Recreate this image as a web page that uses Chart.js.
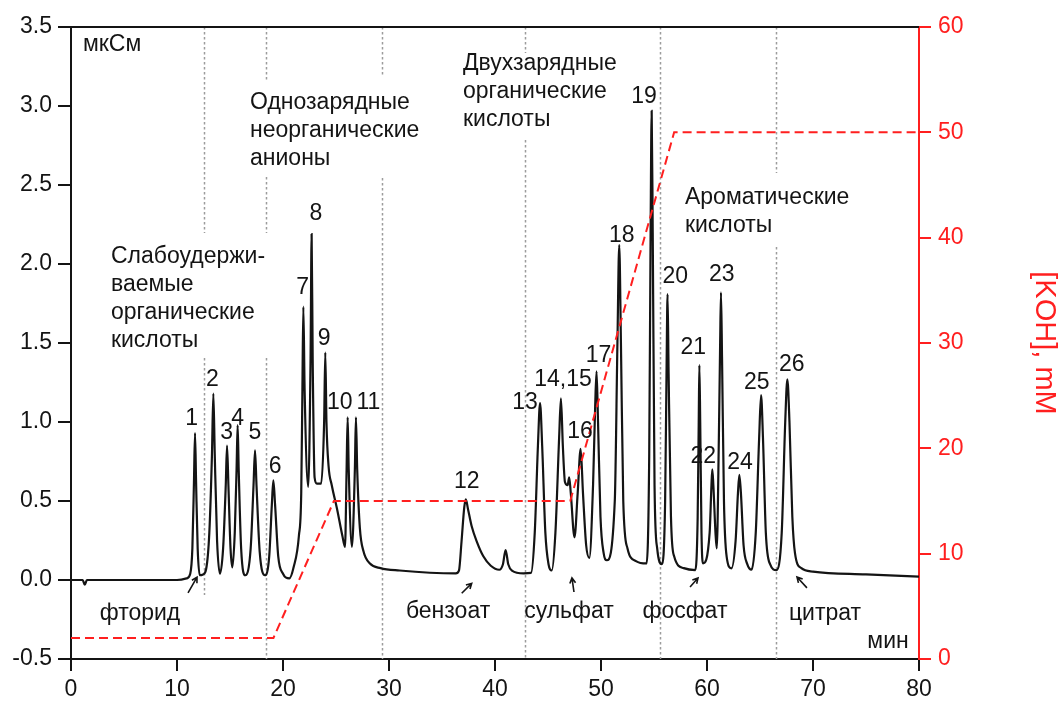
<!DOCTYPE html>
<html lang="ru">
<head>
<meta charset="utf-8">
<title>Хроматограмма анионов</title>
<script src="https://cdn.jsdelivr.net/npm/chart.js@4.4.1/dist/chart.umd.min.js"></script>
<style>
  html, body { margin: 0; padding: 0; background: #fff; }
  #chromatogram { display: block; }
</style>
</head>
<body>
<canvas id="chromatogram" width="1064" height="701"></canvas>
<script>
// Conductivity trace: [time, min; signal, мкСм]
const trace = [
    // baseline with the injection dip
    [0, 0.0], [1.1, 0.0], [1.3, -0.03], [1.5, 0.0], [10.0, 0.0], [10.9, 0.01], [11.25, 0.04],
    // 1
    [11.45, 0.2], [11.6, 0.62], [11.7, 0.93], [11.8, 0.62], [11.95, 0.2], [12.15, 0.03], [12.45, 0.035],
    // 2
    [12.75, 0.07], [13.05, 0.3], [13.3, 0.8], [13.43, 1.18], [13.56, 0.8], [13.78, 0.25], [14.05, 0.04],
    // 3
    [14.35, 0.2], [14.6, 0.6], [14.72, 0.85], [14.85, 0.6], [15.05, 0.2], [15.22, 0.08],
    // 4
    [15.45, 0.3], [15.62, 0.7], [15.72, 0.98], [15.82, 0.7], [16.05, 0.2], [16.45, 0.03],
    // 5
    [16.95, 0.2], [17.22, 0.6], [17.36, 0.82], [17.5, 0.6], [17.8, 0.18], [18.3, 0.03],
    // 6
    [18.7, 0.15], [18.95, 0.48], [19.09, 0.63], [19.25, 0.48], [19.55, 0.15], [20.0, 0.04], [20.6, 0.01],
    // 7, 8, 9
    [21.0, 0.08], [21.5, 0.28], [21.72, 0.55], [21.83, 1.2], [21.92, 1.73], [22.04, 1.2], [22.38, 0.59],
    [22.6, 1.4], [22.7, 2.19], [22.8, 1.4], [22.98, 0.65], [23.2, 0.61], [23.6, 0.61],
    [23.88, 1.0], [23.99, 1.44], [24.1, 1.0], [24.3, 0.72], [24.6, 0.6], [25.1, 0.45], [25.6, 0.28], [25.85, 0.21],
    // 10, 11
    [26.0, 0.7], [26.1, 1.03], [26.2, 0.7], [26.5, 0.21],
    [26.78, 0.7], [26.88, 1.03], [27.0, 0.7], [27.25, 0.33], [27.6, 0.18], [28.2, 0.105], [29.2, 0.075], [31.0, 0.06], [36.3, 0.042],
    // 12 and the small peak after it
    [36.6, 0.06], [36.85, 0.25], [37.1, 0.46], [37.25, 0.51], [37.45, 0.45], [37.8, 0.34], [38.3, 0.24], [38.9, 0.15], [39.6, 0.09], [40.4, 0.065],
    [40.75, 0.1], [41.0, 0.19], [41.25, 0.1], [41.6, 0.06], [42.7, 0.042], [43.4, 0.045],
    // 13
    [43.75, 0.3], [44.05, 0.85], [44.25, 1.12], [44.45, 0.85], [44.75, 0.3], [45.05, 0.1], [45.35, 0.06],
    // 14, 15 (shoulder), 16
    [45.7, 0.3], [46.05, 0.9], [46.22, 1.15], [46.4, 0.85], [46.6, 0.62], [46.85, 0.6], [47.0, 0.65], [47.15, 0.55], [47.5, 0.27],
    [47.8, 0.55], [48.08, 0.83], [48.3, 0.55], [48.6, 0.22], [48.9, 0.14],
    // 17
    [49.25, 0.6], [49.45, 1.1], [49.58, 1.32], [49.72, 1.0], [49.95, 0.4], [50.25, 0.17], [50.55, 0.125],
    // 18
    [51.3, 0.5], [51.55, 1.5], [51.72, 2.12], [51.88, 1.5], [52.1, 0.5], [52.5, 0.2], [53.3, 0.12], [54.3, 0.105],
    // 19
    [54.55, 0.8], [54.68, 2.2], [54.78, 2.97], [54.88, 2.2], [55.05, 0.6], [55.3, 0.2], [55.75, 0.1],
    // 20
    [56.05, 0.5], [56.18, 1.3], [56.28, 1.81], [56.38, 1.3], [56.6, 0.4], [56.9, 0.15], [57.8, 0.075], [58.9, 0.063],
    // 21, 22, 23
    [59.12, 0.4], [59.22, 1.0], [59.28, 1.36], [59.36, 1.0], [59.48, 0.3], [59.62, 0.105],
    [60.25, 0.3], [60.42, 0.6], [60.5, 0.7], [60.6, 0.6], [60.8, 0.3], [60.92, 0.2],
    [61.12, 0.9], [61.24, 1.5], [61.32, 1.82], [61.42, 1.4], [61.6, 0.5], [61.85, 0.15], [62.3, 0.074],
    // 24
    [62.7, 0.25], [62.92, 0.55], [63.05, 0.665], [63.2, 0.55], [63.45, 0.22], [63.8, 0.1], [64.2, 0.065],
    // 25
    [64.6, 0.3], [64.92, 0.9], [65.1, 1.17], [65.28, 0.9], [65.55, 0.3], [65.95, 0.1], [66.55, 0.063],
    // 26 and the tail
    [67.05, 0.3], [67.38, 1.0], [67.58, 1.27], [67.78, 1.0], [68.05, 0.4], [68.3, 0.17], [68.9, 0.075], [70.0, 0.053], [75.0, 0.035], [80.0, 0.021]
];

// KOH eluent gradient program
const gradientTime = [0, 19.1, 24.8, 47.1, 56.9, 80];
const gradientKOH = [2, 2, 15, 15, 50, 50];

// Peak numbers: [text, time, signal]
const peakLabels = [
    ['1', 11.38, 1.02], ['2', 13.33, 1.27], ['3', 14.69, 0.93], ['4', 15.73, 1.02],
    ['5', 17.36, 0.93], ['6', 19.25, 0.72], ['7', 21.86, 1.85], ['8', 23.11, 2.32],
    ['9', 23.87, 1.53], ['10', 25.35, 1.12], ['11', 28.05, 1.12], ['12', 37.33, 0.62],
    ['13', 42.83, 1.12], ['14,15', 46.42, 1.27], ['16', 48.02, 0.94], ['17', 49.76, 1.42],
    ['18', 51.95, 2.18], ['19', 54.06, 3.06], ['20', 57.0, 1.92], ['21', 58.7, 1.47],
    ['22', 59.65, 0.78], ['23', 61.39, 1.93], ['24', 63.11, 0.74], ['25', 64.69, 1.25],
    ['26', 67.99, 1.36]
];

// Anion groups (left-aligned blocks; time, signal of the first line)
const groupLabels = [
    { lines: ['Слабоудержи-', 'ваемые', 'органические', 'кислоты'], x: 3.77, y: 2.044 },
    { lines: ['Однозарядные', 'неорганические', 'анионы'], x: 16.89, y: 3.02 },
    { lines: ['Двухзарядные', 'органические', 'кислоты'], x: 36.98, y: 3.27 },
    { lines: ['Ароматические', 'кислоты'], x: 57.92, y: 2.42 }
];

// Named ions under the baseline: [text, time, signal]
const ionLabels = [
    ['фторид', 6.51, -0.215], ['бензоат', 35.57, -0.2], ['сульфат', 46.98, -0.2],
    ['фосфат', 57.92, -0.2], ['цитрат', 71.13, -0.215]
];

// Arrows pointing at those ions: [tailTime, tailSignal, headTime, headSignal]
const ionArrows = [
    [11.04, -0.082, 11.89, 0.018],
    [36.86, -0.084, 37.8, -0.021],
    [47.45, -0.076, 47.26, 0.013],
    [58.4, -0.044, 59.15, 0.013],
    [69.43, -0.05, 68.49, 0.019]
];

// Dotted separators between groups: time and [from, to] signal ranges
const separators = [
    { t: 12.5, spans: [[3.5, 2.196], [1.405, -0.095]] },
    { t: 18.4, spans: [[3.5, 3.165], [2.55, 2.196], [1.405, -0.5]] },
    { t: 29.3, spans: [[3.5, 3.196], [2.544, -0.5]] },
    { t: 42.8, spans: [[3.5, 3.335], [2.785, -0.5]] },
    { t: 55.6, spans: [[3.5, -0.5]] },
    { t: 66.5, spans: [[3.5, 2.576], [2.108, -0.5]] }
];

const FONT = '"Liberation Sans", Arial, sans-serif';
const INK = '#141414';
const RED = '#ff1f1f';

Chart.defaults.font.family = FONT;
Chart.defaults.color = INK;

function drawArrow(ctx, x1, y1, x2, y2) {
    const a = Math.atan2(y2 - y1, x2 - x1);
    const h = 6;
    ctx.beginPath();
    ctx.moveTo(x1, y1);
    ctx.lineTo(x2, y2);
    ctx.moveTo(x2 - h * Math.cos(a - 0.5), y2 - h * Math.sin(a - 0.5));
    ctx.lineTo(x2, y2);
    ctx.lineTo(x2 - h * Math.cos(a + 0.5), y2 - h * Math.sin(a + 0.5));
    ctx.stroke();
}

// separators behind the curves, labels and arrows on top
const annotations = {
    id: 'annotations',
    beforeDatasetsDraw(chart) {
        const { ctx, scales: { x, y } } = chart;
        ctx.save();
        ctx.strokeStyle = '#9c9c9c';
        ctx.lineWidth = 1.5;
        ctx.setLineDash([2.5, 2.5]);
        separators.forEach(s => {
            const px = Math.round(x.getPixelForValue(s.t)) + 0.5;
            s.spans.forEach(([a, b]) => {
                ctx.beginPath();
                ctx.moveTo(px, y.getPixelForValue(a));
                ctx.lineTo(px, y.getPixelForValue(b));
                ctx.stroke();
            });
        });
        ctx.restore();
    },
    afterDatasetsDraw(chart) {
        const { ctx, chartArea, scales: { x, y } } = chart;
        ctx.save();
        ctx.fillStyle = INK;
        ctx.textBaseline = 'middle';

        ctx.font = '23px ' + FONT;
        ctx.textAlign = 'center';
        peakLabels.forEach(([t, px, py]) => ctx.fillText(t, x.getPixelForValue(px), y.getPixelForValue(py)));

        ctx.font = '23px ' + FONT;
        ionLabels.forEach(([t, px, py]) => ctx.fillText(t, x.getPixelForValue(px), y.getPixelForValue(py)));
        ctx.fillText('мин', x.getPixelForValue(77.08), y.getPixelForValue(-0.39));

        ctx.textAlign = 'left';
        ctx.fillText('мкСм', x.getPixelForValue(1.13), y.getPixelForValue(3.39));
        groupLabels.forEach(g => {
            const gx = x.getPixelForValue(g.x);
            const gy = y.getPixelForValue(g.y);
            g.lines.forEach((line, i) => ctx.fillText(line, gx, gy + i * 28));
        });

        ctx.strokeStyle = INK;
        ctx.lineWidth = 1.6;
        ionArrows.forEach(([t1, s1, t2, s2]) => drawArrow(ctx,
            x.getPixelForValue(t1), y.getPixelForValue(s1),
            x.getPixelForValue(t2), y.getPixelForValue(s2)));

        // top frame line
        ctx.lineWidth = 2;
        ctx.beginPath();
        ctx.moveTo(chartArea.left, chartArea.top);
        ctx.lineTo(chartArea.right, chartArea.top);
        ctx.stroke();
        ctx.restore();
    }
};

const ctx = document.getElementById('chromatogram').getContext('2d');
const chromatogramChart = new Chart(ctx, {
    type: 'line',
    data: {
        datasets: [{
            label: '[KOH], mM',
            data: gradientTime.map((t, i) => ({ x: t, y: gradientKOH[i] })),
            yAxisID: 'y2',
            borderColor: RED,
            borderWidth: 2,
            borderDash: [9, 5],
            pointRadius: 0,
            fill: false
        }, {
            label: 'мкСм',
            data: trace.map(([t, s]) => ({ x: t, y: s })),
            yAxisID: 'y',
            borderColor: INK,
            borderWidth: 2.2,
            pointRadius: 0,
            cubicInterpolationMode: 'monotone',
            fill: false
        }]
    },
    options: {
        responsive: false,
        animation: false,
        layout: { padding: { top: 27, left: 0, right: 0, bottom: 0 } },
        plugins: {
            legend: { display: false },
            tooltip: { enabled: false }
        },
        scales: {
            x: {
                type: 'linear',
                min: 0,
                max: 80,
                ticks: { stepSize: 10, padding: 5, color: INK, font: { size: 23 } },
                grid: { drawOnChartArea: false, tickLength: 12, tickColor: INK, lineWidth: 2 },
                border: { color: INK, width: 2 },
                afterFit(scale) { scale.height = 42; }
            },
            y: {
                position: 'left',
                min: -0.5,
                max: 3.5,
                ticks: { stepSize: 0.5, padding: 6, color: INK, font: { size: 23 }, callback: v => v.toFixed(1) },
                grid: { drawOnChartArea: false, tickLength: 13, tickColor: INK, lineWidth: 2 },
                border: { color: INK, width: 2 },
                afterFit(scale) { scale.width = 71; }
            },
            y2: {
                position: 'right',
                min: 0,
                max: 60,
                ticks: { stepSize: 10, padding: 7, color: RED, font: { size: 23 } },
                grid: { drawOnChartArea: false, tickLength: 12, tickColor: RED, lineWidth: 2 },
                border: { color: RED, width: 2 },
                title: { display: true, text: '[KOH], mM', color: RED, font: { size: 29 }, padding: { top: 3, bottom: 3 } },
                afterFit(scale) { scale.width = 145; }
            }
        }
    },
    plugins: [annotations]
});
</script>
</body>
</html>
